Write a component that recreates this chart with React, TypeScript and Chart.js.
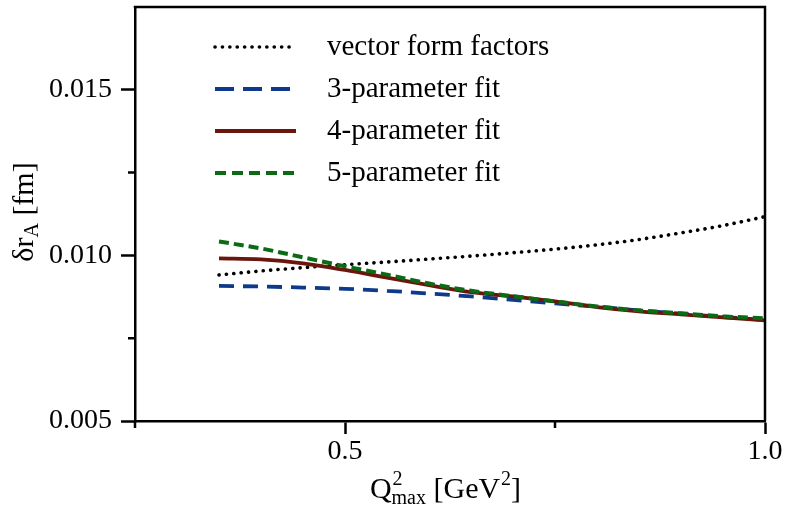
import React, { useEffect, useRef } from 'react';
import { Chart, registerables } from 'chart.js';

Chart.register(...registerables);

// ---- data ----
const qMax = [0.35, 0.40, 0.45, 0.50, 0.55, 0.60, 0.65, 0.70, 0.75, 0.80, 0.85, 0.90, 0.95, 1.00];
const vectorFF = [0.00941, 0.00953, 0.00963, 0.00972, 0.00980, 0.00989, 0.00998, 0.01008, 0.01019, 0.01032, 0.01048, 0.01068, 0.01090, 0.01117];
const fit3 = [0.00908, 0.00906, 0.00903, 0.00899, 0.00893, 0.00885, 0.00876, 0.00866, 0.00855, 0.00845, 0.00834, 0.00824, 0.00814, 0.00805];
const fit4 = [0.00991, 0.00988, 0.00976, 0.00956, 0.00933, 0.00910, 0.00889, 0.00876, 0.00861, 0.00844, 0.00831, 0.00822, 0.00813, 0.00804];
const fit5 = [0.01042, 0.01021, 0.00994, 0.00967, 0.00942, 0.00915, 0.00893, 0.00877, 0.00861, 0.00846, 0.00834, 0.00825, 0.00816, 0.00810];

const seriesLabels = ['vector form factors', '3-parameter fit', '4-parameter fit', '5-parameter fit'];

const xTickValues = [0.5, 1.0];
const xTickLabels = ['0.5', '1.0'];
const yTickValues = [0.005, 0.010, 0.015];
const yTickLabels = ['0.005', '0.010', '0.015'];

const FONT = "'Liberation Serif', 'DejaVu Serif', serif";

function findIdx(list: number[], v: number) {
  return list.findIndex((t) => Math.abs(t - v) < 1e-9);
}

const toPts = (ys: number[]) => qMax.map((x, i) => ({ x, y: ys[i] }));

const framePlugin = {
  id: 'framePlugin',
  afterDraw(chart: any) {
    const ctx = chart.ctx as CanvasRenderingContext2D;
    const a = chart.chartArea;
    ctx.save();
    ctx.strokeStyle = '#000';
    ctx.lineWidth = 2.5;
    ctx.lineCap = 'butt';
    // top and right border
    ctx.beginPath();
    ctx.moveTo(a.left - 1.25, a.top);
    ctx.lineTo(a.right, a.top);
    ctx.lineTo(a.right, a.bottom);
    ctx.stroke();
    // minor ticks
    const xs = chart.scales.x;
    const ys = chart.scales.y;
    ctx.beginPath();
    xs.ticks.forEach((t: any) => {
      if (findIdx(xTickValues, t.value) >= 0) return;
      const px = xs.getPixelForValue(t.value);
      ctx.moveTo(px, a.bottom);
      ctx.lineTo(px, a.bottom + 7);
    });
    ys.ticks.forEach((t: any) => {
      if (findIdx(yTickValues, t.value) >= 0) return;
      if (Math.abs(t.value - ys.max) < 1e-9) return;
      const py = ys.getPixelForValue(t.value);
      ctx.moveTo(a.left, py);
      ctx.lineTo(a.left - 7, py);
    });
    ctx.stroke();

    // legend
    const rows = [47, 89, 131, 173];
    chart.data.datasets.forEach((ds: any, i: number) => {
      const y = rows[i];
      ctx.save();
      ctx.strokeStyle = ds.borderColor;
      ctx.lineWidth = ds.borderWidth;
      ctx.lineCap = ds.borderCapStyle || 'butt';
      ctx.setLineDash(ds.legendDash || ds.borderDash || []);
      ctx.beginPath();
      ctx.moveTo(215, y);
      ctx.lineTo(296, y);
      ctx.stroke();
      ctx.restore();
      ctx.fillStyle = '#000';
      ctx.font = `29px ${FONT}`;
      ctx.textBaseline = 'middle';
      ctx.textAlign = 'left';
      ctx.fillText(ds.label, 327, y);
    });

    // axis titles
    const big = `30px ${FONT}`;
    const small = `20px ${FONT}`;
    ctx.fillStyle = '#000';
    ctx.textBaseline = 'alphabetic';
    ctx.textAlign = 'left';

    // x title: Q^2_max [GeV^2]
    ctx.font = big;
    const wQ = ctx.measureText('Q').width;
    const wMid = ctx.measureText(' [GeV').width;
    const wEnd = ctx.measureText(']').width;
    ctx.font = small;
    const wSup = ctx.measureText('2').width;
    const wSub = ctx.measureText('max').width;
    const totalX = wQ + Math.max(wSup, wSub) + wMid + wSup + wEnd;
    let x = 445 - totalX / 2;
    const by = 498;
    ctx.font = big;
    ctx.fillText('Q', x, by);
    x += wQ;
    ctx.font = small;
    ctx.fillText('2', x + 1, by - 13);
    ctx.fillText('max', x, by + 6);
    x += Math.max(wSup, wSub);
    ctx.font = big;
    ctx.fillText(' [GeV', x, by);
    x += wMid;
    ctx.font = small;
    ctx.fillText('2', x + 1, by - 13);
    x += wSup + 1;
    ctx.font = big;
    ctx.fillText(']', x, by);

    // y title: δr_A [fm]
    ctx.save();
    ctx.translate(33, 212);
    ctx.rotate(-Math.PI / 2);
    ctx.font = big;
    const w1 = ctx.measureText('δr').width;
    const w3 = ctx.measureText(' [fm]').width;
    ctx.font = small;
    const w2 = ctx.measureText('A').width;
    let yx = -(w1 + w2 + w3) / 2;
    ctx.font = big;
    ctx.fillText('δr', yx, 0);
    yx += w1;
    ctx.font = small;
    ctx.fillText('A', yx, 5);
    yx += w2;
    ctx.font = big;
    ctx.fillText(' [fm]', yx, 0);
    ctx.restore();

    ctx.restore();
  },
};

export default function App() {
  const ref = useRef<HTMLCanvasElement | null>(null);

  useEffect(() => {
    if (!ref.current) return;
    const tickColor = (list: number[]) => (c: any) =>
      c.tick && findIdx(list, c.tick.value) >= 0 ? '#000' : 'rgba(0,0,0,0)';
    const chart = new Chart(ref.current, {
      type: 'line',
      data: {
        datasets: [
          {
            label: seriesLabels[0],
            data: toPts(vectorFF),
            borderColor: '#000000',
            borderWidth: 3.6,
            borderDash: [0.1, 7.3],
            borderCapStyle: 'round',
            legendDash: [0.1, 7.3],
            order: 3,
          } as any,
          {
            label: seriesLabels[1],
            data: toPts(fit3),
            borderColor: '#0d3a8a',
            borderWidth: 3.8,
            borderDash: [15, 9],
            legendDash: [19, 9],
            order: 2,
          } as any,
          {
            label: seriesLabels[2],
            data: toPts(fit4),
            borderColor: '#6b160c',
            borderWidth: 3.8,
            order: 1,
          } as any,
          {
            label: seriesLabels[3],
            data: toPts(fit5),
            borderColor: '#0b6a14',
            borderWidth: 4,
            borderDash: [10, 5],
            legendDash: [11, 6],
            order: 0,
          } as any,
        ],
      },
      options: {
        animation: false,
        responsive: false,
        devicePixelRatio: 1,
        parsing: false as any,
        layout: { padding: { top: 7, right: 22, left: 0, bottom: 0 } },
        elements: {
          point: { radius: 0, hoverRadius: 0 },
          line: { cubicInterpolationMode: 'monotone', fill: false },
        },
        plugins: {
          legend: { display: false },
          tooltip: { enabled: false },
          title: { display: false },
        },
        scales: {
          x: {
            type: 'linear',
            min: 0.25,
            max: 1.0,
            afterFit: (s: any) => {
              s.height = 87;
              s.paddingLeft = 0;
              s.paddingRight = 0;
            },
            ticks: {
              stepSize: 0.25,
              padding: 1,
              color: '#000',
              font: { family: FONT, size: 28 },
              maxRotation: 0,
              autoSkip: false,
              callback: (v: any) => {
                const i = findIdx(xTickValues, Number(v));
                return i >= 0 ? xTickLabels[i] : '';
              },
            },
            grid: {
              display: true,
              drawOnChartArea: false,
              drawTicks: true,
              tickLength: 13,
              tickWidth: 2.5,
              tickColor: tickColor(xTickValues),
            },
            border: { display: true, color: '#000', width: 2.5 },
          },
          y: {
            type: 'linear',
            min: 0.005,
            max: 0.0175,
            afterFit: (s: any) => {
              s.width = 135;
              s.paddingTop = 0;
              s.paddingBottom = 0;
            },
            ticks: {
              stepSize: 0.0025,
              padding: 9,
              color: '#000',
              font: { family: FONT, size: 28 },
              autoSkip: false,
              callback: (v: any) => {
                const i = findIdx(yTickValues, Number(v));
                return i >= 0 ? yTickLabels[i] : '';
              },
            },
            grid: {
              display: true,
              drawOnChartArea: false,
              drawTicks: true,
              tickLength: 14,
              tickWidth: 2.5,
              tickColor: tickColor(yTickValues),
            },
            border: { display: true, color: '#000', width: 2.5 },
          },
        },
      },
      plugins: [framePlugin],
    });
    return () => chart.destroy();
  }, []);

  return (
    <div style={{ position: 'fixed', left: 0, top: 0, width: 787, height: 508, background: '#fff' }}>
      <canvas ref={ref} width={787} height={508} style={{ display: 'block' }} />
    </div>
  );
}
